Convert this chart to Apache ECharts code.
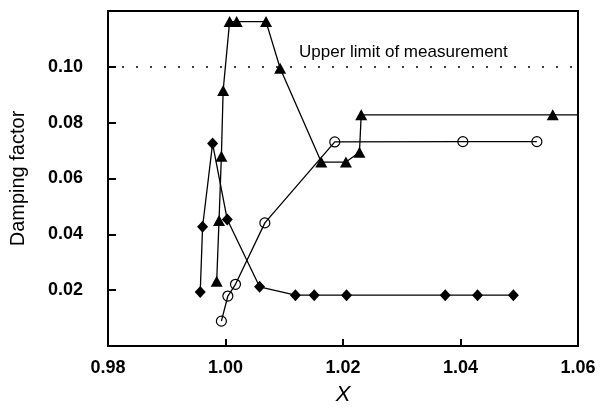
<!DOCTYPE html>
<html>
<head>
<meta charset="utf-8">
<script src="https://cdn.jsdelivr.net/npm/echarts@6/dist/echarts.min.js"></script>
<style>
  html, body { margin: 0; padding: 0; background: #fff; }
  #chart { width: 601px; height: 411px; }
</style>
</head>
<body>
<div id="chart"></div>
<script>
// values
const diamondX = [0.9957, 0.9961, 0.9978, 1.0003, 1.0058, 1.0119, 1.0151, 1.0206, 1.0374, 1.0429, 1.0490];
const diamondY = [0.0193, 0.0427, 0.0725, 0.0453, 0.0212, 0.0182, 0.0182, 0.0182, 0.0182, 0.0182, 0.0182];

const triangleX = [0.9985, 0.9989, 0.9993, 0.9996, 1.0007, 1.0019, 1.0069, 1.0093, 1.0163, 1.0205, 1.0228, 1.0231, 1.0557];
const triangleY = [0.0232, 0.0450, 0.0680, 0.0915, 0.1162, 0.1162, 0.1162, 0.0995, 0.0659, 0.0659, 0.0694, 0.0828, 0.0828];
// the triangle line runs on to the right frame
const triangleTail = [1.06, 0.0828];

const circleX = [0.9993, 1.0004, 1.0017, 1.0067, 1.0186, 1.0404, 1.0530];
const circleY = [0.0089, 0.0179, 0.0221, 0.0441, 0.0731, 0.0732, 0.0732];

const upperLimit = 0.10;
const upperLimitText = 'Upper limit of measurement';
const xTicks = [0.98, 1.00, 1.02, 1.04, 1.06];
const yTicks = [0.02, 0.04, 0.06, 0.08, 0.10];

function pairs(xs, ys) {
    return xs.map(function (x, i) { return [x, ys[i]]; });
}

const chart = echarts.init(document.getElementById('chart'));
const font = '"Liberation Sans", Arial, sans-serif';

const triData = pairs(triangleX, triangleY);
triData.push({ value: triangleTail, symbol: 'none' });

const option = {
    animation: false,
    backgroundColor: '#fff',
    title: {
        text: upperLimitText,
        left: 294,
        top: 39,
        textStyle: { fontFamily: font, fontSize: 17, fontWeight: 'normal', color: '#000' }
    },
    grid: {
        left: 106,
        right: 23,
        top: 11,
        bottom: 64,
        show: true,
        borderColor: '#000',
        borderWidth: 2
    },
    xAxis: {
        type: 'value',
        min: 0.98,
        max: 1.06,
        interval: 0.02,
        name: 'X',
        nameLocation: 'middle',
        nameGap: 38,
        nameTextStyle: { fontFamily: font, fontSize: 22, fontStyle: 'italic', color: '#000' },
        axisLine: { lineStyle: { color: '#000', width: 2 } },
        axisTick: { inside: true, length: 7, lineStyle: { color: '#000', width: 2 } },
        axisLabel: {
            margin: 13,
            fontFamily: font,
            fontSize: 18,
            fontWeight: 'bold',
            color: '#000',
            formatter: function (v) {
                return xTicks.some(function (t) { return Math.abs(t - v) < 1e-9; }) ? v.toFixed(2) : '';
            }
        },
        splitLine: { show: false }
    },
    yAxis: {
        type: 'value',
        min: 0,
        max: 0.12,
        interval: 0.02,
        name: 'Damping factor',
        nameLocation: 'middle',
        nameGap: 80,
        nameTextStyle: { fontFamily: font, fontSize: 20, color: '#000' },
        axisLine: { show: true, lineStyle: { color: '#000', width: 2 } },
        axisTick: { inside: true, length: 8, lineStyle: { color: '#000', width: 2 } },
        axisLabel: {
            margin: 25,
            fontFamily: font,
            fontSize: 18,
            fontWeight: 'bold',
            color: '#000',
            formatter: function (v) {
                return yTicks.some(function (t) { return Math.abs(t - v) < 1e-9; }) ? v.toFixed(2) : '';
            }
        },
        splitLine: { show: false }
    },
    series: [
        {
            type: 'line',
            name: 'diamond',
            data: pairs(diamondX, diamondY),
            symbol: 'diamond',
            symbolSize: [11, 12],
            lineStyle: { color: '#000', width: 1.3 },
            itemStyle: { color: '#000' },
            markLine: {
                silent: true,
                symbol: 'none',
                label: { show: false },
                lineStyle: { color: '#000', type: [2, 12], width: 1.5 },
                data: [{ yAxis: upperLimit }]
            }
        },
        {
            type: 'line',
            name: 'triangle',
            data: triData,
            symbol: 'triangle',
            symbolSize: [12, 11],
            lineStyle: { color: '#000', width: 1.3 },
            itemStyle: { color: '#000' }
        },
        {
            type: 'line',
            name: 'circle',
            data: pairs(circleX, circleY),
            symbol: 'circle',
            symbolSize: 10,
            showAllSymbol: true,
            lineStyle: { color: '#000', width: 1.3 },
            itemStyle: { color: 'rgba(0,0,0,0)', borderColor: '#000', borderWidth: 1.2 }
        }
    ]
};

chart.setOption(option);
</script>
</body>
</html>
